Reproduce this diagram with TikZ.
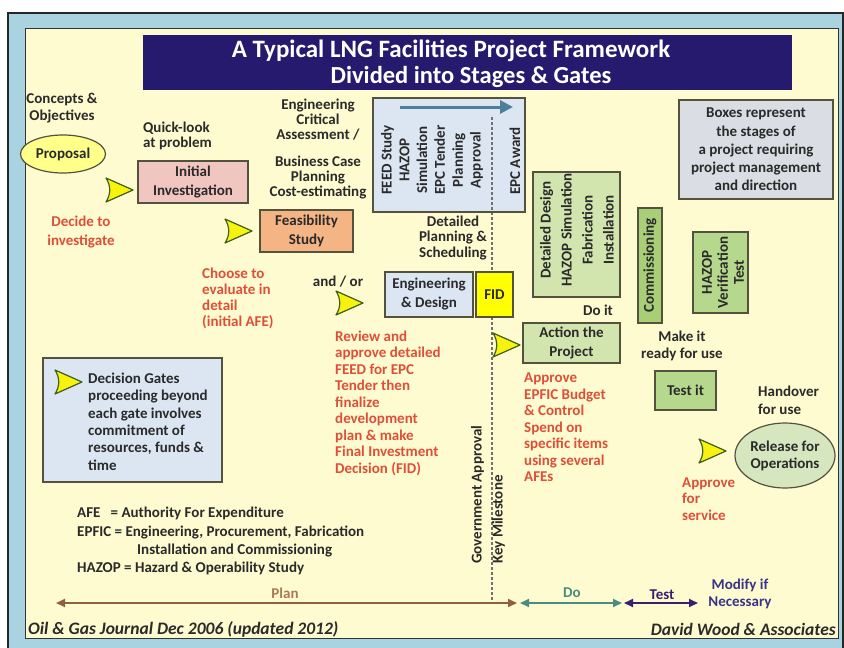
\documentclass[tikz,border=0pt]{standalone}
\usepackage{fontspec}
\setmainfont{Carlito}
\usetikzlibrary{arrows.meta,shapes.geometric}
\definecolor{cream}{HTML}{FFFBD0}
\definecolor{band}{HTML}{A9D3E1}
\definecolor{navy}{HTML}{261A6E}
\definecolor{pinkbox}{HTML}{F2C6C0}
\definecolor{orangebox}{HTML}{F4B484}
\definecolor{bluebox}{HTML}{DCE6F2}
\definecolor{greenlt}{HTML}{D3E5AE}
\definecolor{greenmd}{HTML}{B6D88C}
\definecolor{greendk}{HTML}{A8CF78}
\definecolor{fidyellow}{HTML}{FFFF00}
\definecolor{propyellow}{HTML}{FFFF8A}
\definecolor{greybox}{HTML}{DADDE3}
\definecolor{relgreen}{HTML}{D6E6BE}
\definecolor{redtxt}{HTML}{DE4F3A}
\definecolor{edge}{HTML}{52523F}
\definecolor{txt}{HTML}{2A2A2A}
\definecolor{gatefill}{HTML}{F7F20E}
\definecolor{gateedge}{HTML}{40601C}
\definecolor{plancol}{HTML}{8E6040}
\definecolor{plantxt}{HTML}{A87A55}
\definecolor{docol}{HTML}{4A8C80}
\definecolor{testcol}{HTML}{3A1F6E}
\definecolor{modcol}{HTML}{3A3488}
\definecolor{steel}{HTML}{4D8098}
\definecolor{dashcol}{HTML}{707070}
\tikzset{
  txtb/.style={font=\bfseries\fontsize{15}{16.5}\selectfont, text=txt, align=center, inner sep=0pt},
  redt/.style={txtb, text=redtxt, align=left},
  stagebox/.style={draw=edge, line width=1.2pt, font=\bfseries\fontsize{15}{19}\selectfont, text=txt, align=center, inner sep=0pt},
  gatepic/.pic={\draw[fill=gatefill, draw=gateedge, line width=1.2pt, line join=round]
     (-27,-12) -- (0,0) -- (-27,12) .. controls (-22,4) and (-22,-4) .. (-27,-12) -- cycle;},
  tline/.style={line width=2pt, {Triangle[length=9pt,width=8pt]}-{Triangle[length=9pt,width=8pt]}},
}
\begin{document}
\begin{tikzpicture}[x=1pt,y=-1pt]
\useasboundingbox (0,0) rectangle (844,648);
\fill[white] (0,0) rectangle (844,648);
\draw[draw=black!85, line width=1.6pt, fill=band] (8,13) rectangle (843,662);
\draw[draw=black!80, line width=1pt, fill=cream] (25,28) rectangle (838,638);

% title
\node[fill=navy, minimum width=649pt, minimum height=55pt, inner sep=0pt, anchor=north west] (titlebar) at (143,35) {};
\node[text=white, font=\bfseries\fontsize{25}{26}\selectfont, inner sep=0pt] (title1) at (451,51) {A Typical LNG Facilities Project Framework};
\node[text=white, font=\bfseries\fontsize{24.5}{26}\selectfont, inner sep=0pt] (title2) at (471,77) {Divided into Stages \& Gates};

% dashed milestone line
\coordinate (dtop) at (492,112);
\coordinate (dbot) at (492,603);
\draw[dashcol, line width=1.2pt, dash pattern=on 3pt off 2pt] (dtop) -- (dbot);

% left column
\node[txtb, font=\bfseries\fontsize{15}{17}\selectfont] (concepts) at (62,108) {Concepts \&\\Objectives};
\node[draw=edge, line width=1.2pt, fill=propyellow, ellipse, minimum width=85pt, minimum height=38pt, inner sep=0pt, font=\bfseries\fontsize{15}{16}\selectfont, text=txt] (proposal) at (63,154) {Proposal};
\pic (g1) at (133,190) {gatepic};
\node[redt, align=center, font=\bfseries\fontsize{15}{19}\selectfont] (decide) at (81,232) {Decide to\\investigate};

\node[txtb, align=left, anchor=west, font=\bfseries\fontsize{15}{15.5}\selectfont] (quick) at (143,136) {Quick-look\\at problem};
\node[stagebox, fill=pinkbox, minimum width=110pt, minimum height=42pt] (initinv) at (193,182) {Initial\\Investigation};

\pic (g2) at (252,231) {gatepic};
\node[stagebox, fill=orangebox, minimum width=93pt, minimum height=42pt] (feas) at (306.5,231) {Feasibility\\Study};
\node[redt, anchor=west, font=\bfseries\fontsize{15}{16}\selectfont] (choose) at (202,298) {Choose to\\evaluate in\\detail\\(initial AFE)};

\node[txtb, font=\bfseries\fontsize{15}{15}\selectfont] (engcrit) at (318,120) {Engineering\\Critical\\Assessment /};
\node[txtb, font=\bfseries\fontsize{15}{15}\selectfont] (buscase) at (318,178) {Business Case\\Planning\\Cost-estimating};

% FEED box
\node[draw=edge, line width=1.2pt, fill=bluebox, minimum width=152pt, minimum height=114pt, inner sep=0pt] (feedbox) at (449,155) {};
\coordinate (fa1) at (400,107);
\coordinate (fa2) at (513,107);
\draw[steel, line width=3pt, -{Triangle[length=13pt,width=13pt]}] (fa1) -- (fa2);
\draw[dashcol, line width=1.2pt, dash pattern=on 3pt off 2pt] (492,117) -- (492,212);
\node[txtb, rotate=90, font=\bfseries\fontsize{15}{17.8}\selectfont] (feedtxt) at (432,160) {FEED Study\\HAZOP\\Simulation\\EPC Tender\\Planning\\Approval};
\node[txtb, rotate=90] (epcaward) at (515,161) {EPC Award};

\node[txtb, font=\bfseries\fontsize{15}{15.5}\selectfont] (detplan) at (453,238) {Detailed\\Planning \&\\Scheduling};

\node[txtb] (andor) at (338,282) {and / or};
\pic (g3) at (363,303) {gatepic};
\node[stagebox, fill=bluebox, minimum width=88pt, minimum height=45pt] (engdes) at (429,294.5) {Engineering\\\& Design};
\node[stagebox, fill=fidyellow, minimum width=37pt, minimum height=45pt] (fid) at (494.5,294.5) {FID};
\node[redt, anchor=west] (review) at (335,403) {Review and\\approve detailed\\FEED for EPC\\Tender then\\finalize\\development\\plan \& make\\Final Investment\\Decision (FID)};

\node[txtb, rotate=90, align=left, anchor=north west, font=\bfseries\fontsize{15}{21}\selectfont] (govt) at (471,564) {Government Approval\\Key Milestone};

% Do stage
\pic (g4) at (520,345) {gatepic};
\node[stagebox, fill=greenlt, minimum width=97pt, minimum height=40pt] (action) at (571.5,343) {Action the\\Project};
\node[draw=edge, line width=1.2pt, fill=greenlt, minimum width=87pt, minimum height=125pt, inner sep=0pt] (ddbox) at (576.5,234.5) {};
\node[txtb, rotate=90, font=\bfseries\fontsize{15}{21}\selectfont] (ddtxt) at (577,230) {Detailed Design\\HAZOP Simulation\\Fabrication\\Installation};
\node[txtb] (doit) at (598,310) {Do it};
\node[redt, anchor=west] (approve) at (524,427.5) {Approve\\EPFIC Budget\\\& Control\\Spend on\\specific items\\using several\\AFEs};

% Test stage
\node[draw=edge, line width=1.2pt, fill=greendk, minimum width=24pt, minimum height=115pt, inner sep=0pt] (comm) at (650,265.5) {};
\node[txtb, rotate=90] (commtxt) at (650,265.5) {Commissioning};
\node[draw=edge, line width=1.2pt, fill=greenmd, minimum width=55pt, minimum height=81pt, inner sep=0pt] (hazbox) at (720.5,272.5) {};
\node[txtb, rotate=90, font=\bfseries\fontsize{15}{16}\selectfont] (haztxt) at (723,272.5) {HAZOP\\Verification\\Test};
\node[txtb, font=\bfseries\fontsize{15}{17}\selectfont] (makeit) at (682,345.5) {Make it\\ready for use};
\node[stagebox, fill=greenmd, minimum width=61pt, minimum height=39pt] (testit) at (685.5,390.5) {Test it};
\node[txtb, align=left, anchor=west, font=\bfseries\fontsize{15}{18}\selectfont] (handover) at (758,400) {Handover\\for use};
\pic (g5) at (726,451) {gatepic};
\node[draw=edge, line width=1.2pt, fill=relgreen, ellipse, minimum width=100pt, minimum height=65pt, inner sep=0pt, font=\bfseries\fontsize{15}{17}\selectfont, text=txt, align=center] (release) at (785,455.5) {Release for\\Operations};
\node[redt, anchor=west] (apserv) at (682,499) {Approve\\for\\service};

% explanatory box
\node[draw=edge, line width=1.2pt, fill=greybox, minimum width=154pt, minimum height=99pt, inner sep=0pt, font=\bfseries\fontsize{15}{18.2}\selectfont, text=txt, align=center] (boxesrep) at (756,149.5) {Boxes represent\\the stages of\\a project requiring\\project management\\and direction};

% legend
\node[draw=edge, line width=1.2pt, fill=bluebox, minimum width=179pt, minimum height=124pt, inner sep=0pt] (legend) at (132.5,420) {};
\pic (g6) at (82,382) {gatepic};
\node[txtb, align=left, anchor=west, font=\bfseries\fontsize{15}{17.4}\selectfont] (legtxt) at (88,421.5) {Decision Gates\\proceeding beyond\\each gate involves\\commitment of\\resources, funds \&\\time};

% abbreviations
\node[txtb, anchor=west] (afe) at (77,513) {AFE\ \ \ = Authority For Expenditure};
\node[txtb, anchor=west] (epfic) at (77,532) {EPFIC = Engineering, Procurement, Fabrication};
\node[txtb, anchor=west] (epfic2) at (137,550) {Installation and Commissioning};
\node[txtb, anchor=west] (hazop) at (77,568) {HAZOP = Hazard \& Operability Study};

% timeline
\coordinate (pl1) at (56,603);
\coordinate (pl2) at (517,603);
\coordinate (do1) at (520,603);
\coordinate (do2) at (622,603);
\coordinate (te1) at (624,603);
\coordinate (te2) at (698,603);
\draw[tline, plancol] (pl1) -- (pl2);
\draw[tline, docol] (do1) -- (do2);
\draw[tline, testcol] (te1) -- (te2);
\node[txtb, text=plantxt] (plan) at (285,593) {Plan};
\node[txtb, text=docol] (dolbl) at (572,593) {Do};
\node[txtb, text=testcol] (testlbl) at (662,595) {Test};
\node[txtb, text=modcol, font=\bfseries\fontsize{15}{17}\selectfont] (modify) at (740,593.5) {Modify if\\Necessary};

% footer
\node[txtb, anchor=west, font=\bfseries\itshape\fontsize{17.5}{18}\selectfont] (ogj) at (28,629) {Oil \& Gas Journal Dec 2006 (updated 2012)};
\node[txtb, anchor=east, font=\bfseries\itshape\fontsize{17.5}{18}\selectfont] (dwa) at (836,629) {David Wood \& Associates};
\end{tikzpicture}
\end{document}
